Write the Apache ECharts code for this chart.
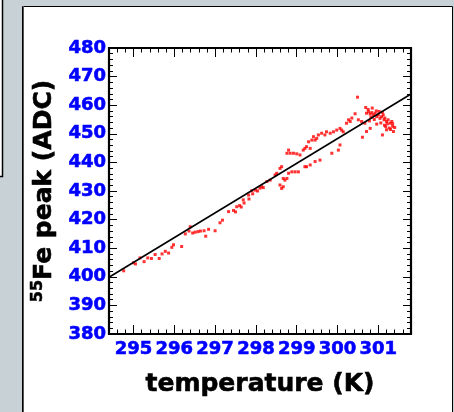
<!DOCTYPE html>
<html>
<head>
<meta charset="utf-8">
<script src="https://cdn.jsdelivr.net/npm/echarts@6/dist/echarts.min.js"></script>
<style>
html,body{margin:0;padding:0;background:#c7d1d6;}
#chart{width:454px;height:412px;}
</style>
</head>
<body>
<div id="chart"></div>
<script>
// ---- data ----
const temperature = [
294.76,295.00,295.05,295.16,295.26,295.35,295.44,295.53,295.63,295.70,295.78,295.86,295.94,295.98,296.18,
296.27,296.36,296.39,296.45,296.51,296.58,296.64,296.73,296.77,296.84,297.00,297.12,297.18,297.33,297.45,
297.50,297.53,297.60,297.64,297.71,297.83,297.92,297.99,298.04,298.10,298.18,
297.69,297.82,297.90,298.14,298.27,298.35,298.47,298.51,298.59,298.63,298.59,298.63,298.67,298.67,298.71,
298.76,298.80,298.88,298.96,299.04,298.80,298.76,298.84,298.92,299.00,299.08,299.16,299.20,299.24,299.33,
299.29,299.37,299.41,299.45,299.49,299.53,299.61,299.69,299.73,299.82,299.90,299.98,300.06,300.10,300.14,
299.20,299.24,299.33,299.45,299.57,299.86,300.02,300.06,300.22,300.27,300.31,300.35,300.43,300.49,300.51,
300.59,300.61,300.67,300.69,300.71,300.71,300.76,300.80,300.80,300.84,300.88,300.92,300.96,300.96,301.00,
301.04,301.08,301.10,301.12,301.14,301.16,301.20,301.20,301.24,301.29,301.33,301.35,301.37,
300.75,300.82,300.90,300.95,301.02,301.06,301.10,301.15,301.18,301.22,301.27,301.30,301.35,301.40,300.85,300.78
];
const peak = [
402.1,404.9,404.5,406.6,405.3,406.6,406.4,407.8,406.4,408.0,408.9,408.3,410.3,411.2,410.6,
415.0,416.0,417.5,415.3,415.6,415.8,416.0,416.1,414.2,416.6,416.1,418.9,419.8,422.8,423.2,
422.7,424.5,424.9,424.4,425.8,427.2,429.0,430.3,430.0,431.0,431.2,
426.9,428.6,430.1,431.5,433.3,433.8,435.6,436.2,437.9,438.5,432.1,430.9,431.5,434.4,433.8,
434.4,436.2,436.7,436.7,436.7,444.3,443.2,443.2,443.2,443.0,442.6,444.3,444.9,445.5,444.9,
447.2,447.8,449.0,447.8,448.4,449.6,450.2,449.6,450.7,450.2,450.7,451.3,451.9,451.3,450.7,
438.5,438.5,439.1,440.3,440.8,443.2,444.3,446.1,453.7,454.9,454.3,455.5,457.0,462.8,454.9,
454.3,448.8,453.7,459.2,457.2,450.8,457.7,456.9,451.9,457.4,456.6,457.2,456.0,453.4,456.6,
455.4,456.0,449.6,456.6,454.9,455.5,454.3,451.4,454.9,453.7,454.3,452.6,450.8,
458.5,455.8,455.0,458.0,457.8,453.8,457.5,453.0,452.5,453.5,452.0,451.5,453.5,452.2,459.0,454.5
];
const fitT = [294.42, 301.8];
const fitV = [400.0, 463.9];
const xMajorTicks = [295, 296, 297, 298, 299, 300, 301];
const xMinorTicks = [294.4,294.6,294.8,295.2,295.4,295.6,295.8,296.2,296.4,296.6,296.8,
297.2,297.4,297.6,297.8,298.2,298.4,298.6,298.8,299.2,299.4,299.6,299.8,
300.2,300.4,300.6,300.8,301.2,301.4,301.6,301.8];
const yMin = 380, yMax = 480, yStep = 10;
const xMin = 294.4, xMax = 301.8;

const scatterData = temperature.map((t, i) => [t, peak[i]]);
const lineData = fitT.map((t, i) => [t, fitV[i]]);

const FONT = 'DejaVu Sans';
const chart = echarts.init(document.getElementById('chart'), null, {renderer: 'canvas'});

function xAxisDef(pos, ticks, len, withLabel) {
  return {
    type: 'value', position: pos, min: xMin, max: xMax,
    axisLine: {show: false},
    splitLine: {show: false},
    axisTick: {show: true, inside: true, length: len, customValues: ticks,
      lineStyle: {color: '#000', width: 1}},
    axisLabel: withLabel ? {show: true, customValues: xMajorTicks, color: '#0000ff',
      fontFamily: FONT, fontWeight: 'bold', fontSize: 18, margin: 6,
      textBorderColor: '#0000ff', textBorderWidth: 0.6} : {show: false}
  };
}
function yAxisDef(pos, withLabel) {
  return {
    type: 'value', position: pos, min: yMin, max: yMax, interval: yStep,
    axisLine: {show: false},
    splitLine: {show: false},
    axisTick: {show: true, inside: true, length: 8, lineStyle: {color: '#000', width: 1}},
    minorTick: {show: true, splitNumber: 5, length: 4, lineStyle: {color: '#000', width: 1}},
    axisLabel: withLabel ? {show: true, color: '#0000ff', fontFamily: FONT,
      fontWeight: 'bold', fontSize: 18, margin: 3,
      textBorderColor: '#0000ff', textBorderWidth: 0.6} : {show: false}
  };
}

const xa0 = xAxisDef('bottom', xMajorTicks, 9, true);
xa0.name = 'temperature (K)';
xa0.nameLocation = 'middle';
xa0.nameGap = 38;
xa0.nameTextStyle = {fontFamily: FONT, fontWeight: 'bold', fontSize: 25, color: '#000',
  textBorderColor: '#000', textBorderWidth: 0.6};

const ya0 = yAxisDef('left', true);
ya0.name = '{sup|55}{m|Fe peak (ADC)}';
ya0.nameLocation = 'middle';
ya0.nameGap = 37;
ya0.nameTextStyle = {color: '#000', fontFamily: FONT, fontWeight: 'bold', fontSize: 25,
  rich: {
    sup: {fontFamily: FONT, fontWeight: 'bold', fontSize: 16, color: '#000', verticalAlign: 'top', lineHeight: 30,
      textBorderColor: '#000', textBorderWidth: 0.5},
    m: {fontFamily: FONT, fontWeight: 'bold', fontSize: 25, color: '#000', lineHeight: 30,
      textBorderColor: '#000', textBorderWidth: 0.6}
  }};

const option = {
  backgroundColor: 'transparent',
  animation: false,
  graphic: [
    {type: 'rect', z: -10, shape: {x: -10, y: -10, width: 12.5, height: 186.5},
      style: {fill: '#ffffff', stroke: '#000', lineWidth: 1.5}},
    {type: 'rect', z: -10, shape: {x: 22.5, y: 6.5, width: 430, height: 420},
      style: {fill: '#ffffff', stroke: '#000', lineWidth: 1}},
    {type: 'line', z: -9, shape: {x1: 23.5, y1: 6, x2: 23.5, y2: 412},
      style: {stroke: '#555', lineWidth: 1}}
  ],
  grid: {left: 109, right: 43, top: 48, bottom: 78, show: true,
    borderColor: '#000', borderWidth: 2.2, backgroundColor: 'transparent'},
  xAxis: [
    xa0,
    xAxisDef('bottom', xMinorTicks, 4.5, false),
    xAxisDef('top', xMajorTicks, 9, false),
    xAxisDef('top', xMinorTicks, 4.5, false)
  ],
  yAxis: [ya0, yAxisDef('right', false)],
  series: [
    {type: 'scatter', xAxisIndex: 0, yAxisIndex: 0, data: scatterData,
      symbol: 'rect', symbolSize: 3, itemStyle: {color: '#ff0000'}, z: 3},
    {type: 'line', xAxisIndex: 0, yAxisIndex: 0, data: lineData, showSymbol: false,
      lineStyle: {color: '#000', width: 1.6}, z: 4}
  ]
};
chart.setOption(option);
</script>
</body>
</html>
